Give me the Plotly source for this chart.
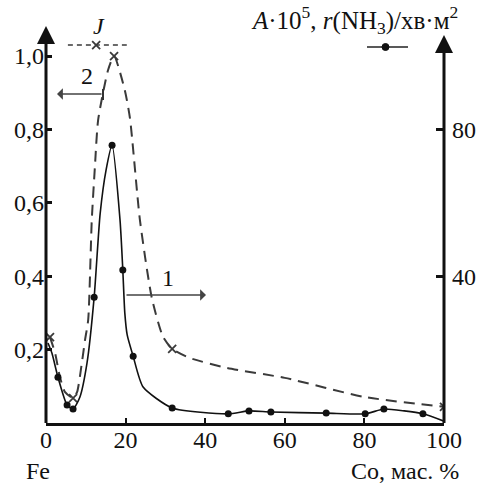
import plotly.graph_objects as go

# ---- data ----
# curve 2 (dashed, J, left axis)
j_x = [1, 2.3, 3.5, 4.8, 6.8, 7.8, 9, 9.8, 10.6, 11.5, 12.3, 13.1, 15.6, 17.1, 19.8, 21.1, 23.6, 26.6, 29.4, 31.7, 36.2, 45.5, 60, 80, 100]
j_y = [0.234, 0.19, 0.125, 0.084, 0.068, 0.084, 0.163, 0.226, 0.281, 0.553, 0.70, 0.826, 0.962, 1.0, 0.907, 0.83, 0.553, 0.34, 0.235, 0.202, 0.177, 0.150, 0.123, 0.071, 0.044]
j_marked = [0, 4, 13, 19, 24]
# J maximum line
jmax_x = [5.5, 20.3]
jmax_y = [1.03, 1.03]
jmax_mark_x = [12.6]
jmax_mark_y = [1.03]

# curve 1 (solid, A*10^5, right axis)
a_x = [0.5, 1.5, 3, 5.3, 6.8, 8.5, 10.3, 12.1, 13.6, 15.1, 16.6, 18.6, 19.3, 19.8, 20.4, 21.9, 24.4, 31.7, 45.8, 51, 56.5, 70.4, 80.2, 84.9, 90, 94.7, 100]
a_y = [21.8, 19, 12.5, 4.9, 3.8, 7, 16.3, 34.3, 57, 69, 75.7, 55.3, 41.7, 30, 24, 18.2, 9.8, 4.1, 2.5, 3.3, 3.0, 2.7, 2.5, 3.8, 3.3, 2.5, 0.5]
a_marked = [2, 3, 4, 7, 10, 12, 15, 17, 18, 19, 20, 21, 22, 23, 25]

x_ticks = [0, 20, 40, 60, 80, 100]
y_ticks = [0.2, 0.4, 0.6, 0.8, 1.0]
y2_ticks = [40, 80]

FONT = "Liberation Serif"
DASH_COL = "#3a3a3a"
SOLID_COL = "#111111"

fig = go.Figure()

fig.add_trace(go.Scatter(x=j_x, y=j_y, mode="lines", line=dict(color=DASH_COL, width=2, dash="11px,7px", shape="spline", smoothing=0.6), hoverinfo="skip"))
fig.add_trace(go.Scatter(x=[j_x[i] for i in j_marked], y=[j_y[i] for i in j_marked], mode="markers",
                         marker=dict(symbol="x-thin", size=8, line=dict(color=DASH_COL, width=1.8))))
fig.add_trace(go.Scatter(x=jmax_x, y=jmax_y, mode="lines", line=dict(color=DASH_COL, width=1.5, dash="5px,4px")))
fig.add_trace(go.Scatter(x=jmax_mark_x, y=jmax_mark_y, mode="markers",
                         marker=dict(symbol="x-thin", size=8, line=dict(color=DASH_COL, width=1.8))))

fig.add_trace(go.Scatter(x=a_x, y=a_y, yaxis="y2", mode="lines", line=dict(color=SOLID_COL, width=1.6, shape="spline", smoothing=0.6), hoverinfo="skip"))
fig.add_trace(go.Scatter(x=[a_x[i] for i in a_marked], y=[a_y[i] for i in a_marked], yaxis="y2", mode="markers",
                         marker=dict(symbol="circle", size=7, color=SOLID_COL)))

# plot geometry
L, R, T, B = 46, 36, 30, 61
YTOP = 1.071

fig.update_layout(
    width=480, height=484,
    margin=dict(l=L, r=R, t=T, b=B, pad=0, autoexpand=False),
    plot_bgcolor="white", paper_bgcolor="white",
    showlegend=False,
    separators=", ",
    font=dict(family=FONT, size=24, color="#111"),
    xaxis=dict(range=[0, 100], tickvals=x_ticks, ticks="inside", ticklen=5, tickwidth=2, tickcolor="#111",
               showgrid=False, zeroline=False, showline=True, linewidth=3, linecolor="#111", automargin=False,
               tickfont=dict(family=FONT, size=24), ticklabelstandoff=-7),
    yaxis=dict(range=[0, YTOP], tickvals=y_ticks, tickformat=".1f", ticks="inside", ticklen=6, tickwidth=2.5,
               tickcolor="#111", showgrid=False, zeroline=False, showline=False, automargin=False,
               tickfont=dict(family=FONT, size=24), ticklabelstandoff=1),
    yaxis2=dict(range=[0, YTOP * 100], overlaying="y", side="right", tickvals=y2_ticks, ticks="inside", ticklen=8,
                tickwidth=2.5, tickcolor="#111", showgrid=False, zeroline=False, showline=False, automargin=False,
                tickfont=dict(family=FONT, size=24), ticklabelstandoff=7),
)

pw = 480 - L - R
ph = 484 - T - B

def px(xp):
    return (xp - L) / pw

def py(yp):
    return (484 - B - yp) / ph

# vertical axis lines
fig.add_shape(type="line", xref="paper", yref="paper", x0=0, x1=0, y0=0, y1=py(38), line=dict(color="#111", width=3))
fig.add_shape(type="line", xref="paper", yref="paper", x0=1, x1=1, y0=0, y1=py(48), line=dict(color="#111", width=3))
# arrowheads on axes
for xp, tip in [(0, 26), (1, 35)]:
    fig.add_annotation(xref="paper", yref="paper", x=xp, y=py(tip), ax=0, ay=16, showarrow=True,
                       arrowhead=2, arrowsize=1.2, arrowwidth=3, arrowcolor="#111", text="")

# legend key for curve 1
fig.add_shape(type="line", xref="paper", yref="paper", x0=px(367), x1=px(408), y0=py(47), y1=py(47),
              line=dict(color="#222", width=1.5))
fig.add_shape(type="circle", xref="paper", yref="paper", x0=px(382), x1=px(389), y0=py(50.5), y1=py(43.5),
              fillcolor="#111", line=dict(color="#111", width=1))

def text(xp, yp, s, size=24):
    fig.add_annotation(xref="paper", yref="paper", x=px(xp), y=py(yp), text=s, showarrow=False,
                       xanchor="center", yanchor="middle", font=dict(family=FONT, size=size))

# texts
text(99, 26, "<i>J</i>")
text(354, 20, "<i>A</i>·10<sup>5</sup>, <i>r</i>(NH<sub>3</sub>)/хв·м<sup>2</sup>", 25)
text(38, 471, "Fe", 24)
text(405, 471, "Co, мас. %", 24)
text(87, 76, "2")
text(168, 278, "1")

# arrow 2 (points left, to left axis)
fig.add_annotation(xref="paper", yref="paper", x=px(57), y=py(94), ax=46, ay=0,
                   showarrow=True, arrowhead=1, arrowsize=1.3, arrowwidth=1.5, arrowcolor="#444", text="")
fig.add_shape(type="line", xref="paper", yref="paper", x0=px(103), x1=px(103), y0=py(89), y1=py(100),
              line=dict(color="#333", width=2))
# arrow 1 (points right, to right axis)
fig.add_annotation(xref="paper", yref="paper", x=px(206), y=py(295), ax=-81, ay=0,
                   showarrow=True, arrowhead=1, arrowsize=1.3, arrowwidth=1.5, arrowcolor="#444", text="")

fig.write_html("out.html", config={"displayModeBar": False},
               post_script="document.body.style.margin='0';document.body.style.overflow='hidden';")
